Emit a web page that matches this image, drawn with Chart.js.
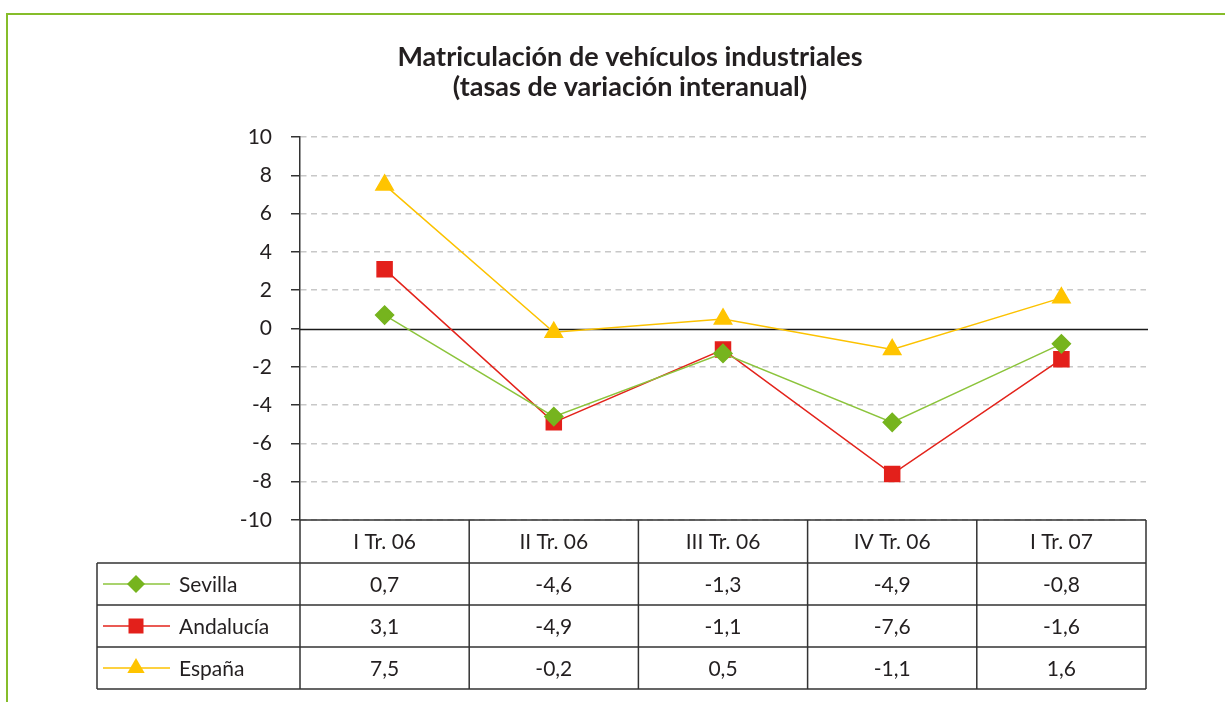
<!DOCTYPE html>
<html lang="es">

<head>
  <meta charset="UTF-8">
  <title>Matriculación de vehículos industriales</title>
  <script src="https://cdn.jsdelivr.net/npm/chart.js"></script>
  <style>
    body {
      margin: 0;
      background: #fff;
      overflow: hidden;
    }
    .frame {
      position: absolute;
      left: 6px;
      top: 13px;
      width: 1240px;
      height: 720px;
      border-top: 2px solid #86bd2a;
      border-left: 2px solid #86bd2a;
    }
    .wrap {
      position: absolute;
      left: 0;
      top: 0;
      width: 1225px;
      height: 702px;
    }
  </style>
</head>

<body>
  <div class="frame"></div>
  <div class="wrap"><canvas id="myChart"></canvas></div>

  <script>
    // data
    const categories = ['I Tr. 06', 'II Tr. 06', 'III Tr. 06', 'IV Tr. 06', 'I Tr. 07'];
    const sevilla = [0.7, -4.6, -1.3, -4.9, -0.8];
    const andalucia = [3.1, -4.9, -1.1, -7.6, -1.6];
    const espana = [7.5, -0.2, 0.5, -1.1, 1.6];
    const seriesNames = ['Sevilla', 'Andalucía', 'España'];
    const yMin = -10, yMax = 10, yStep = 2;

    const FONT = 'Lato, "Open Sans", sans-serif';
    const INK = '#231f20';

    function fmt(v) {
      return v.toFixed(1).replace('.', ',');
    }

    function marker(ctx, style, x, y, color) {
      ctx.save();
      ctx.fillStyle = color;
      ctx.beginPath();
      if (style === 'rectRot') {
        const r = 9;
        ctx.moveTo(x, y - r); ctx.lineTo(x + r, y); ctx.lineTo(x, y + r); ctx.lineTo(x - r, y);
      } else if (style === 'rect') {
        ctx.rect(x - 7.5, y - 7.5, 15, 15);
      } else {
        const r = 10;
        ctx.moveTo(x, y - r);
        ctx.lineTo(x + r * 0.866, y + r / 2);
        ctx.lineTo(x - r * 0.866, y + r / 2);
      }
      ctx.closePath();
      ctx.fill();
      ctx.restore();
    }

    // solid line at zero
    const zeroLine = {
      id: 'zeroLine',
      beforeDatasetsDraw(chart) {
        const { ctx, chartArea, scales } = chart;
        const y = Math.round(scales.y.getPixelForValue(0)) + 0.5;
        ctx.save();
        ctx.strokeStyle = '#1a1a1a';
        ctx.lineWidth = 1.5;
        ctx.beginPath();
        ctx.moveTo(chartArea.left, y);
        ctx.lineTo(chartArea.right + 2, y);
        ctx.stroke();
        ctx.restore();
      }
    };

    // data table under the plot
    const dataTable = {
      id: 'dataTable',
      afterDraw(chart) {
        const { ctx, chartArea, scales } = chart;
        const x = scales.x;
        const band = (chartArea.right - chartArea.left) / categories.length;
        const top = chartArea.bottom;
        const headH = 43, rowH = 42;
        const legendLeft = 97;
        const right = chartArea.right;
        const bottom = top + headH + rowH * 3;

        ctx.save();
        ctx.strokeStyle = '#333';
        ctx.lineWidth = 1.5;
        ctx.beginPath();
        // header top
        ctx.moveTo(chartArea.left, top); ctx.lineTo(right, top);
        // row lines
        for (let r = 0; r <= 3; r++) {
          const yy = top + headH + r * rowH;
          ctx.moveTo(legendLeft, yy); ctx.lineTo(right, yy);
        }
        // verticals
        ctx.moveTo(legendLeft, top + headH); ctx.lineTo(legendLeft, bottom);
        for (let i = 0; i <= categories.length; i++) {
          const xx = chartArea.left + i * band;
          ctx.moveTo(xx, top); ctx.lineTo(xx, bottom);
        }
        ctx.stroke();

        ctx.fillStyle = INK;
        ctx.font = '21px ' + FONT;
        ctx.textAlign = 'center';
        ctx.textBaseline = 'middle';
        categories.forEach((c, i) => {
          ctx.fillText(c, x.getPixelForValue(i), top + headH / 2 + 1);
        });

        chart.data.datasets.forEach((ds, r) => {
          const cy = top + headH + r * rowH + rowH / 2;
          ctx.strokeStyle = ds.borderColor;
          ctx.lineWidth = 1.5;
          ctx.beginPath();
          ctx.moveTo(103, cy); ctx.lineTo(170, cy);
          ctx.stroke();
          marker(ctx, ds.pointStyle, 136, cy, ds.pointBackgroundColor);
          ctx.fillStyle = INK;
          ctx.textAlign = 'left';
          ctx.fillText(ds.label, 179, cy + 1);
          ctx.textAlign = 'center';
          ds.data.forEach((v, i) => {
            ctx.fillText(fmt(v), x.getPixelForValue(i), cy + 1);
          });
        });
        ctx.restore();
      }
    };

    const ctx = document.getElementById('myChart').getContext('2d');
    const myChart = new Chart(ctx, {
      type: 'line',
      data: {
        labels: categories,
        datasets: [{
          label: seriesNames[0],
          data: sevilla,
          borderColor: '#8cc43c',
          pointBackgroundColor: '#76b41e',
          pointBorderColor: '#76b41e',
          pointStyle: 'rectRot',
          pointRadius: 9,
          borderWidth: 1.5
        }, {
          label: seriesNames[1],
          data: andalucia,
          borderColor: '#e3231b',
          pointBackgroundColor: '#e3201b',
          pointBorderColor: '#e3201b',
          pointStyle: 'rect',
          pointRadius: 10.6,
          borderWidth: 1.5
        }, {
          label: seriesNames[2],
          data: espana,
          borderColor: '#fcc200',
          pointBackgroundColor: '#ffc400',
          pointBorderColor: '#ffc400',
          pointStyle: 'triangle',
          pointRadius: 10,
          borderWidth: 1.5
        }]
      },
      options: {
        responsive: true,
        maintainAspectRatio: false,
        animation: false,
        layout: {
          padding: { left: 114, right: 79, top: 0, bottom: 182 }
        },
        plugins: {
          legend: { display: false },
          tooltip: { enabled: false },
          title: {
            display: true,
            text: ['Matriculación de vehículos industriales', '(tasas de variación interanual)'],
            color: INK,
            font: { family: FONT, size: 27, weight: 'bold', lineHeight: '30px' },
            padding: { top: 42, bottom: 35 }
          }
        },
        scales: {
          x: {
            type: 'category',
            offset: true,
            display: false
          },
          y: {
            min: yMin,
            max: yMax,
            afterFit(scale) { scale.width = 186; },
            ticks: {
              stepSize: yStep,
              color: INK,
              padding: 19,
              font: { family: FONT, size: 21 }
            },
            grid: {
              color: c => (c.tick && c.tick.value === 0) ? 'rgba(0,0,0,0)' : '#c8c8c8',
              lineWidth: 1.5,
              tickLength: 9,
              tickColor: '#333',
              tickWidth: 1.5
            },
            border: {
              display: true,
              color: '#333',
              width: 1.5,
              dash: [6, 4.5]
            }
          }
        }
      },
      plugins: [zeroLine, dataTable]
    });
  </script>

</body>

</html>
